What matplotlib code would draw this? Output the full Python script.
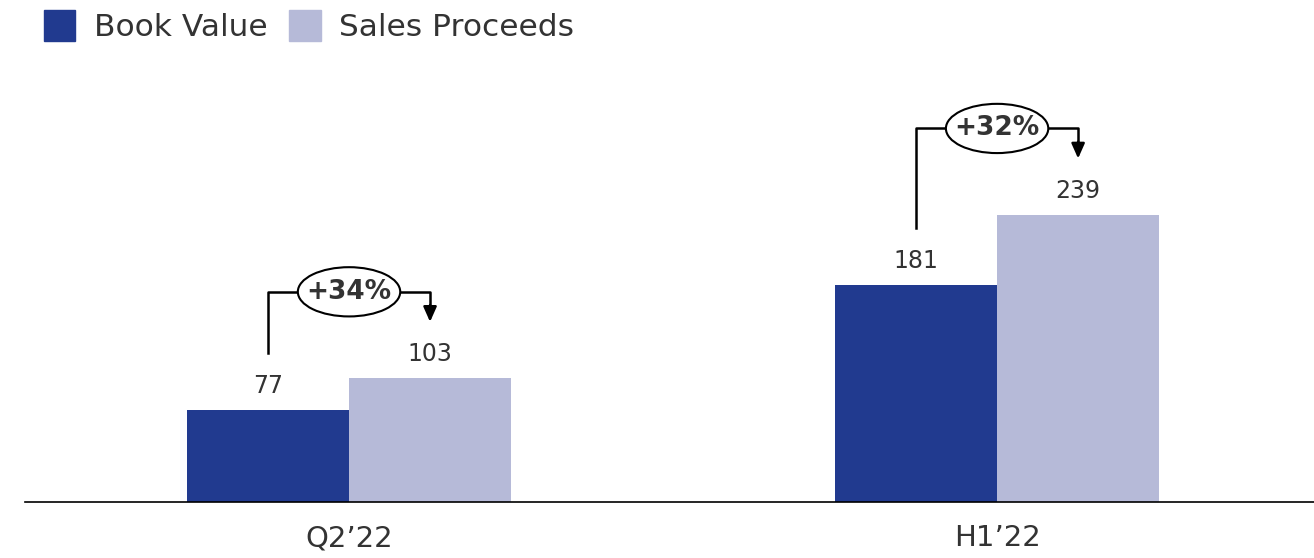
import matplotlib.pyplot as plt
from matplotlib.patches import Ellipse, Patch

categories = ["Q2\u201922", "H1\u201922"]
book_value = [77, 181]
sales_proceeds = [103, 239]
growth_labels = ["+34%", "+32%"]

dark_blue = "#213a8f"
light_blue = "#b6bad8"
text_color = "#333333"

fig = plt.figure(figsize=(13.14, 5.58), dpi=100)
ax = fig.add_axes([25 / 1314, 56 / 558, 1 - 25 / 1314, 442 / 558])

width = 0.25
x = list(range(len(categories)))
ax.bar([i - width / 2 for i in x], book_value, width, color=dark_blue, label="Book Value")
ax.bar([i + width / 2 for i in x], sales_proceeds, width, color=light_blue, label="Sales Proceeds")

for i in x:
    ax.text(i - width / 2, book_value[i] + 10, str(book_value[i]), ha="center", va="bottom",
            fontsize=17, color=text_color)
    ax.text(i + width / 2, sales_proceeds[i] + 10, str(sales_proceeds[i]), ha="center", va="bottom",
            fontsize=17, color=text_color)

    # bracket with ellipse showing growth
    y_start = book_value[i] + 47
    y_top = sales_proceeds[i] + 72
    y_tip = sales_proceeds[i] + 47
    ax.plot([i - width / 2, i - width / 2, i + width / 2, i + width / 2],
            [y_start, y_top, y_top, y_tip + 12], color="black", lw=1.8)
    ax.annotate("", xy=(i + width / 2, y_tip), xytext=(i + width / 2, y_tip + 14),
                arrowprops=dict(arrowstyle="-|>,head_width=0.4,head_length=0.9",
                                color="black", lw=1.8, shrinkA=0, shrinkB=0))
    ell = Ellipse((i, y_top), 0.158, 41, facecolor="white", edgecolor="black", lw=1.5, zorder=3)
    ax.add_patch(ell)
    ax.text(i, y_top, growth_labels[i], ha="center", va="center", fontsize=19,
            fontweight="bold", color=text_color, zorder=4)

ax.set_xlim(-0.5, 1.489)
ax.set_ylim(0, 368)
ax.set_xticks(x)
ax.set_xticklabels(categories, fontsize=21, color=text_color)
ax.tick_params(axis="x", length=0, pad=16)
ax.set_yticks([])
for side in ["top", "right", "left"]:
    ax.spines[side].set_visible(False)
ax.spines["bottom"].set_color("black")
ax.spines["bottom"].set_linewidth(1.2)

handles = [Patch(color=dark_blue), Patch(color=light_blue)]
fig.legend(handles, ["Book Value", "Sales Proceeds"], loc="upper left",
           bbox_to_anchor=(0.012, 1.032), ncol=2, frameon=False, fontsize=22.5,
           handlelength=1.0, handleheight=1.15, handletextpad=0.6, columnspacing=0.7,
           labelcolor=text_color)

fig.savefig("out.png", dpi=100)
